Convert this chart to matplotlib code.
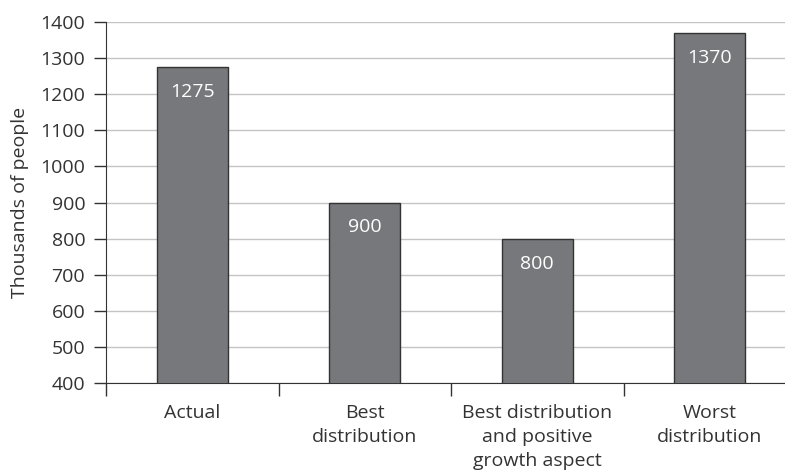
import matplotlib.pyplot as plt
from matplotlib.ticker import FixedLocator, NullFormatter

# valores em milhares de pessoas
categorias = ["Actual", "Best\ndistribution",
              "Best distribution\nand positive\ngrowth aspect",
              "Worst\ndistribution"]
valores = [1275, 900, 800, 1370]
ticks_y = [400, 500, 600, 700, 800, 900, 1000, 1100, 1200, 1300, 1400]

plt.rcParams['font.family'] = ['Open Sans', 'DejaVu Sans']
cor_texto = '#333333'
tam = 14

fig = plt.figure(figsize=(7.85, 4.75), dpi=100)
ax = fig.add_axes([106/785, 1 - 383/475, 1 - 106/785, (383 - 22)/475])

pos = list(range(len(categorias)))
barras = ax.bar(pos, valores, width=0.41, color='#77787b',
                edgecolor='#333333', linewidth=1.0, zorder=3)

for b, v in zip(barras, valores):
    ax.annotate(str(v), (b.get_x() + b.get_width() / 2, v),
                xytext=(0, -18), textcoords='offset points',
                ha='center', va='center', color='white', fontsize=tam, zorder=4)

ax.set_ylim(400, 1400)
ax.set_xlim(-0.5, 3.5 - 11/172.5)
ax.set_yticks(ticks_y)
ax.yaxis.grid(True, color='#c4c4c4', linewidth=1.0, zorder=0)
ax.set_axisbelow(True)

# marcas do eixo x ficam entre as categorias, nomes no centro
ax.xaxis.set_major_locator(FixedLocator([-0.5, 0.5, 1.5, 2.5]))
ax.xaxis.set_major_formatter(NullFormatter())
ax.xaxis.set_minor_locator(FixedLocator(pos))
ax.set_xticklabels(categorias, minor=True, linespacing=1.45)
ax.tick_params(axis='x', which='minor', length=0, pad=15,
               labelsize=tam, labelcolor=cor_texto)
ax.tick_params(axis='x', which='major', length=9, width=1, color='#333333')
ax.tick_params(axis='y', length=9, width=1, color='#333333',
               labelsize=tam, labelcolor=cor_texto, pad=6)

for lado in ['top', 'right']:
    ax.spines[lado].set_visible(False)
ax.spines['left'].set_color('#333333')
ax.spines['bottom'].set_color('#333333')

ax.set_ylabel("Thousands of people", fontsize=tam, color=cor_texto, labelpad=8)

fig.savefig('out.png', dpi=100)
